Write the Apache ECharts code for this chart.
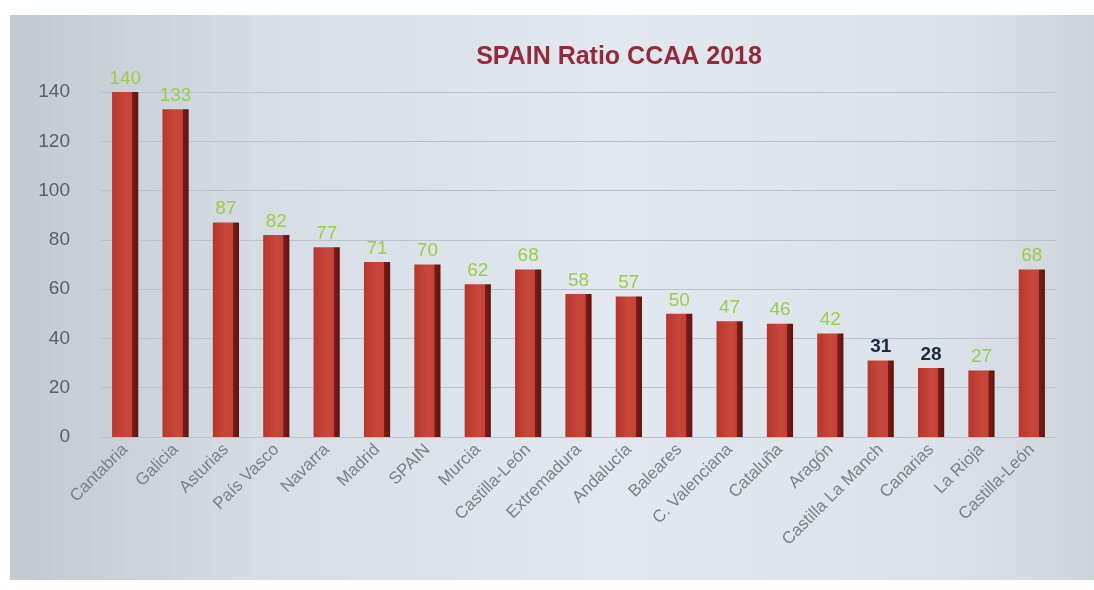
<!DOCTYPE html>
<html>
<head>
<meta charset="utf-8">
<script src="https://cdn.jsdelivr.net/npm/echarts@6/dist/echarts.min.js"></script>
<style>
html,body{margin:0;padding:0;background:#ffffff;}
#c{width:1094px;height:590px;}
</style>
</head>
<body>
<div id="c"></div>
<script>
var categories = ["Cantabria","Galicia","Asturias","País Vasco","Navarra","Madrid","SPAIN","Murcia","Castilla-León","Extremadura","Andalucía","Baleares","C. Valenciana","Cataluña","Aragón","Castilla La Manch","Canarias","La Rioja","Castilla-León"];
var values = [140,133,87,82,77,71,70,62,68,58,57,50,47,46,42,31,28,27,68];
var darkLabelIndex = [15,16];
var yTicks = {min:0, max:140, interval:20};

var chart = echarts.init(document.getElementById('c'));
var data = values.map(function(v,i){
  var dark = darkLabelIndex.indexOf(i) >= 0;
  return {value:v, label:{color: dark ? '#1c2a3c' : '#9ccd46', fontWeight: dark ? 'bold' : 'normal'}};
});
chart.setOption({
  backgroundColor:'#ffffff',
  graphic:[{
    type:'rect', z:-10, silent:true,
    shape:{x:10,y:15,width:1084,height:565},
    style:{fill:new echarts.graphic.LinearGradient(0,0,1,0,[
      {offset:0,color:'#c2c9d1'},{offset:0.25,color:'#d6dde5'},
      {offset:0.55,color:'#e1e8f0'},{offset:0.85,color:'#dbe2ea'},{offset:1,color:'#cdd4dc'}])}
  }],
  title:{
    text:'SPAIN Ratio CCAA 2018', left:614, top:40, textAlign:'center',
    textStyle:{color:'#962a3a', fontFamily:'Liberation Sans, Arial', fontWeight:'bold', fontSize:25}
  },
  grid:{left:100, right:37, top:92, bottom:153},
  xAxis:{
    type:'category', data:categories,
    axisLine:{show:false}, axisTick:{show:false},
    axisLabel:{rotate:45, interval:0, margin:10, color:'#7a818a', fontSize:17, fontFamily:'Liberation Sans, Arial'}
  },
  yAxis:{
    type:'value', min:yTicks.min, max:yTicks.max, interval:yTicks.interval,
    axisLine:{show:false}, axisTick:{show:false},
    axisLabel:{color:'#5a5f66', fontSize:19, margin:30, fontFamily:'Liberation Sans, Arial'},
    splitLine:{lineStyle:{color:'#b9c1ca', width:1}}
  },
  series:[{
    type:'bar', data:data, barWidth:'52%',
    itemStyle:{color:new echarts.graphic.LinearGradient(0,0,1,0,[
      {offset:0,color:'#b8372c'},{offset:0.5,color:'#c8473b'},{offset:0.76,color:'#c2433a'},
      {offset:0.78,color:'#7d1c17'},{offset:1,color:'#5e1410'}])},
    label:{show:true, position:'top', distance:4, fontSize:19, fontFamily:'Liberation Sans, Arial'}
  }]
});
</script>
</body>
</html>
